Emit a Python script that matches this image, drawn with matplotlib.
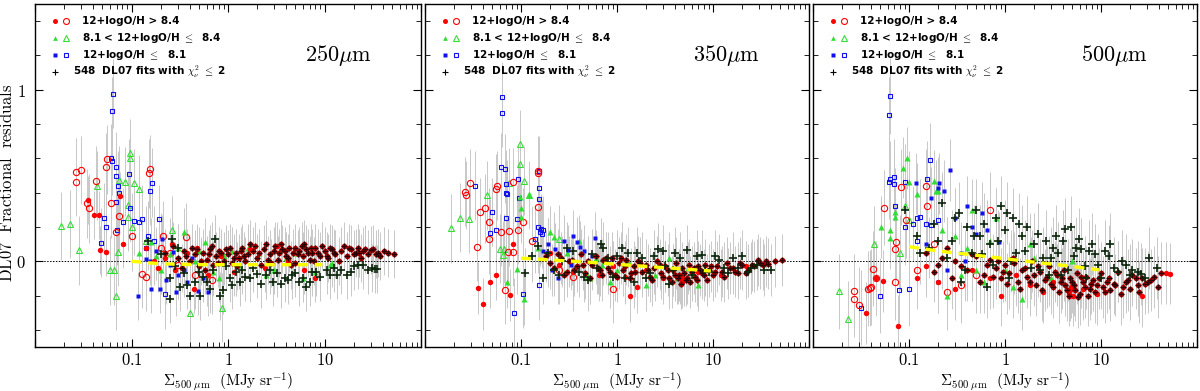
import matplotlib
matplotlib.use("Agg")
from matplotlib import pyplot as plt
from matplotlib.ticker import FixedLocator, FixedFormatter, LogLocator, MultipleLocator, NullFormatter

plt.rcParams['mathtext.fontset'] = 'cm'

# ---- panel 1 : 250 micron ----
p1_red_fill_x = [0.0357, 0.0405, 0.046, 0.0475, 0.055, 0.076, 0.082, 0.14, 0.17, 0.19, 0.22, 0.26, 0.28, 0.38, 0.44, 0.48, 0.62, 0.85, 1.15, 1.7, 2.4, 3.2, 4.2, 6.2, 8.0]
p1_red_fill_y = [0.36, 0.269, 0.27, 0.064, 0.053, 0.382, 0.10, 0.08, 0.0, -0.04, 0.02, 0.10, -0.05, 0.05, -0.16, 0.08, -0.08, 0.03, -0.06, 0.07, -0.04, 0.09, 0.0, -0.05, -0.10]
p1_red_open_x = [0.0264, 0.030, 0.0268, 0.0426, 0.055, 0.056, 0.157, 0.151, 0.0348, 0.0365, 0.062, 0.074, 0.069, 0.101, 0.13, 0.14, 0.21, 0.37, 0.68, 0.25, 0.45, 0.20, 0.30]
p1_red_open_y = [0.52, 0.532, 0.464, 0.47, 0.548, 0.595, 0.538, 0.513, 0.337, 0.308, 0.337, 0.263, 0.17, 0.146, -0.072, -0.09, 0.15, 0.14, -0.11, 0.05, -0.08, 0.08, -0.02]
p1_red_fit_x = [0.30, 0.33, 0.35, 0.40, 0.42, 0.45, 0.50, 0.55, 0.58, 0.60, 0.65, 0.70, 0.75, 0.80, 0.90, 0.95, 1.0, 1.1, 1.2, 1.25,
                1.3, 1.4, 1.5, 1.6, 1.8, 1.9, 2.0, 2.2, 2.5, 2.7, 2.8, 3.0, 3.3, 3.5, 3.6, 4.0, 4.3, 4.5, 4.7, 5.0,
                5.5, 5.8, 6.0, 6.5, 7.0, 7.5, 7.8, 8.0, 9.0, 9.5, 10, 11, 12, 13, 14, 15, 17, 18, 19, 21,
                23, 24, 26, 30, 34, 38, 45, 52,
                0.22, 0.27, 0.37, 0.48, 0.52, 0.63, 0.68, 0.78, 0.85, 1.05, 1.15, 1.35, 1.45, 1.7, 2.1, 2.35, 2.6, 3.1, 3.4, 3.9,
                4.2, 4.9, 5.3, 6.2, 6.8, 7.2, 8.5, 10.5, 11.5, 12.5, 16, 20, 22, 25, 28, 32, 36, 41]
p1_red_fit_y = [0.02, -0.04, 0.06, 0.00, 0.08, 0.04, -0.03, 0.05, -0.05, 0.01, 0.07, -0.02, 0.03, 0.06, 0.00, 0.07, 0.04, -0.01, 0.05, -0.03,
                0.02, 0.08, 0.00, 0.04, 0.06, 0.09, 0.02, -0.02, 0.10, 0.04, -0.01, 0.06, 0.01, 0.10, 0.07, 0.03, 0.08, -0.02, 0.05, -0.01,
                0.06, 0.09, 0.03, 0.07, 0.01, 0.05, 0.00, 0.08, 0.03, 0.09, 0.06, 0.02, 0.07, 0.04, 0.00, 0.06, 0.03, 0.08, 0.07, 0.05,
                0.05, 0.02, 0.07, 0.066, 0.04, 0.033, 0.05, 0.04,
                0.05, 0.09, 0.03, 0.07, 0.00, 0.04, 0.09, -0.01, 0.05, 0.08, 0.02, 0.06, 0.03, 0.10, 0.05, 0.07, 0.01, 0.09, 0.05, 0.06,
                0.02, 0.08, 0.04, 0.10, 0.05, 0.08, 0.05, 0.03, 0.08, 0.05, 0.09, 0.04, 0.08, 0.06, 0.04, 0.07, 0.05, 0.06]
p1_green_fill_x = [0.12, 0.16, 0.18, 0.20, 0.25, 0.35, 0.45, 0.58, 0.70, 0.90, 1.3, 1.6, 2.1, 3.0, 4.0, 6.0, 11.4, 12,
                   0.3, 0.5, 0.8, 1.1, 2.5, 5, 8]
p1_green_fill_y = [0.05, 0.11, 0.03, -0.05, 0.04, 0.17, 0.00, 0.11, -0.06, 0.03, -0.02, 0.08, 0.05, -0.05, 0.02, -0.10, -0.023, -0.01,
                   0.08, 0.06, -0.10, 0.06, -0.08, 0.05, -0.06]
p1_green_open_x = [0.0186, 0.023, 0.0283, 0.060, 0.066, 0.069, 0.044, 0.097, 0.097, 0.075, 0.086, 0.106, 0.12, 0.092, 0.092, 0.10, 0.073, 0.40, 0.87, 0.26, 0.14]
p1_green_open_y = [0.205, 0.218, 0.064, -0.053, -0.053, -0.20, 0.44, 0.63, 0.604, 0.472, 0.464, 0.454, 0.42, 0.327, 0.26, 0.20, 0.054, -0.30, -0.27, 0.18, 0.12]
p1_blue_fill_x = [0.117, 0.197, 0.29, 0.49, 0.62, 0.155, 0.27, 0.205, 0.14, 0.23, 0.16, 0.35, 0.42, 0.30, 0.18, 0.55, 0.25, 0.38]
p1_blue_fill_y = [-0.20, -0.16, -0.18, -0.175, -0.18, 0.00, 0.055, 0.13, 0.016, -0.11, -0.16, -0.05, 0.02, -0.08, 0.06, -0.10, -0.02, -0.12]
p1_blue_open_x = [0.064, 0.063, 0.061, 0.0625, 0.069, 0.069, 0.0935, 0.072, 0.074, 0.165, 0.156, 0.052, 0.0955, 0.069, 0.0545, 0.070, 0.082, 0.107, 0.13, 0.191, 0.12, 0.048, 0.22, 0.14, 0.15, 0.17]
p1_blue_open_y = [0.977, 0.875, 0.60, 0.585, 0.551, 0.497, 0.51, 0.44, 0.40, 0.458, 0.41, 0.255, 0.312, 0.347, 0.20, 0.181, 0.23, 0.234, 0.247, 0.244, 0.23, 0.109, -0.193, 0.08, 0.15, 0.12]
p1_plus_x = [0.15, 0.20, 0.25, 0.25, 0.26, 0.30, 0.32, 0.35, 0.40, 0.45, 0.50, 0.51, 0.60, 0.70, 0.73, 0.83, 0.89, 1.05, 1.2, 1.33,
             1.5, 1.8, 2.0, 2.5, 2.9, 3.2, 3.9, 4.2, 5.0, 5.5, 6.5, 7.5, 9.0, 10.5, 13.4, 15, 17, 20, 25, 33, 35,
             0.28, 0.38, 0.55, 0.65, 0.95, 1.1, 1.4, 1.7, 2.2, 2.7, 3.5, 4.6, 6.0, 7.0, 8.2, 11.5, 12.5, 19, 22, 28, 31]
p1_plus_y = [0.12, 0.04, -0.22, -0.10, 0.13, 0.08, -0.15, -0.07, -0.20, -0.12, -0.06, -0.20, -0.12, -0.05, 0.13, -0.20, -0.17, -0.10, -0.06, -0.12,
             -0.09, -0.04, -0.072, -0.08, -0.12, -0.07, -0.10, -0.11, -0.07, -0.12, -0.15, -0.06, -0.09, -0.05, -0.078, -0.05, -0.078, -0.03, -0.023, -0.043, -0.045,
             -0.03, -0.14, -0.09, -0.16, -0.03, -0.14, -0.05, -0.10, -0.13, -0.05, -0.13, -0.08, -0.10, -0.12, -0.06, -0.08, -0.04, -0.06, -0.02, -0.05, -0.04]
p1_med_y = [0.0, -0.015, -0.02, -0.02, -0.02, -0.02, -0.02]
p1_err_open = 0.2
p1_err_fill = 0.14

# ---- panel 2 : 350 micron ----
p2_red_fill_x = [0.082, 0.055, 0.047, 0.036, 0.040, 0.076, 1.36, 1.6, 0.20, 0.25, 0.35, 0.5, 0.65, 0.9, 1.2, 2.0, 3.0, 4.5, 4.7, 4.8, 5.0, 4.6, 7.0, 12, 22]
p2_red_fill_y = [0.103, -0.078, -0.12, -0.156, -0.25, -0.197, -0.205, -0.152, 0.05, -0.02, -0.06, 0.0, -0.08, -0.03, -0.09, -0.05, -0.10, -0.10, -0.12, -0.09, -0.11, -0.13, -0.06, -0.08, -0.03]
p2_red_open_x = [0.149, 0.152, 0.0296, 0.056, 0.055, 0.083, 0.026, 0.0265, 0.15, 0.037, 0.042, 0.046, 0.094, 0.105, 0.062, 0.075, 0.046, 0.035, 0.073, 0.083, 0.068, 0.91, 0.35, 0.25, 0.13]
p2_red_open_y = [0.528, 0.516, 0.456, 0.44, 0.423, 0.46, 0.405, 0.386, 0.314, 0.285, 0.308, 0.23, 0.185, 0.23, 0.171, 0.175, 0.127, 0.084, 0.056, 0.054, -0.166, -0.162, -0.09, -0.05, 0.12]
p2_red_fit_x = [0.18, 0.22, 0.26, 0.30, 0.34, 0.38, 0.42, 0.46, 0.50, 0.55, 0.60, 0.66, 0.72, 0.80, 0.88, 0.95, 1.05, 1.15, 1.25, 1.4,
                1.5, 1.65, 1.8, 2.0, 2.2, 2.4, 2.6, 2.9, 3.2, 3.5, 3.8, 4.1, 4.4, 4.8, 5.2, 5.6, 6.0, 6.5, 7.0, 7.6,
                8.2, 9.0, 10, 11, 12.5, 14, 16, 18, 20, 23, 25.6, 29.6, 33, 37.7, 52,
                0.2, 0.24, 0.28, 0.32, 0.36, 0.44, 0.52, 0.63, 0.69, 0.76, 0.84, 1.0, 1.1, 1.2, 1.35, 1.55, 1.75, 2.1, 2.3, 2.8,
                3.0, 3.4, 3.7, 4.0, 4.3, 4.6, 5.0, 5.4, 5.8, 6.3, 6.8, 7.3, 8.0, 8.6, 9.5, 10.5, 13, 15, 17, 19,
                22, 27, 31, 36, 44]
p2_red_fit_y = [0.03, -0.04, 0.02, -0.06, 0.01, -0.03, 0.04, -0.07, 0.00, -0.02, 0.03, -0.05, 0.01, -0.04, 0.02, -0.08, -0.01, -0.05, 0.01, -0.07,
                -0.03, 0.00, -0.06, -0.02, -0.09, -0.04, 0.00, -0.07, -0.03, -0.10, -0.05, -0.01, -0.08, -0.04, -0.11, -0.02, -0.06, -0.09, -0.03, -0.07,
                -0.02, -0.05, -0.08, -0.03, -0.06, -0.01, -0.04, -0.07, -0.02, -0.05, -0.023, 0.006, -0.02, -0.014, 0.006,
                -0.01, 0.04, -0.08, 0.00, -0.05, -0.02, -0.10, -0.04, -0.08, 0.02, -0.06, -0.09, 0.02, -0.03, -0.10, -0.06, -0.01, -0.05, -0.11, -0.02,
                -0.09, -0.05, -0.12, -0.08, -0.10, -0.13, -0.07, -0.10, -0.12, -0.04, -0.11, -0.05, -0.08, -0.11, -0.03, -0.06, -0.09, -0.04, -0.06, -0.01,
                -0.07, -0.03, -0.01, 0.00, 0.00]
p2_green_fill_x = [0.098, 0.12, 0.101, 0.101, 0.072, 0.091, 0.107, 0.20, 0.22, 0.30, 0.52, 0.7, 1.0, 2.0, 3.5, 7.0, 0.15, 0.4,
                   0.28, 0.6, 0.85, 1.3, 2.5, 4.2, 5.5]
p2_green_fill_y = [0.372, 0.386, 0.308, 0.259, -0.12, -0.043, -0.222, 0.17, 0.14, 0.05, -0.10, -0.02, -0.05, -0.14, 0.02, -0.14, 0.08, 0.12,
                   -0.07, 0.02, -0.12, 0.0, -0.08, -0.10, -0.04]
p2_green_open_x = [0.097, 0.098, 0.075, 0.107, 0.12, 0.044, 0.0232, 0.0285, 0.0185, 0.060, 0.067, 0.065, 0.25, 0.5]
p2_green_open_y = [0.682, 0.565, 0.458, 0.47, 0.386, 0.384, 0.255, 0.247, 0.191, 0.074, 0.074, 0.037, 0.13, -0.09]
p2_blue_fill_x = [0.59, 0.38, 0.41, 0.31, 0.88, 0.226, 0.19, 0.25, 0.28, 0.45, 0.33, 0.17, 0.21, 0.55, 0.24, 0.35]
p2_blue_fill_y = [0.136, 0.11, 0.084, 0.064, 0.016, 0.074, 0.10, 0.04, 0.12, 0.06, -0.02, 0.06, -0.05, 0.03, -0.10, 0.15]
p2_blue_open_x = [0.064, 0.064, 0.062, 0.068, 0.155, 0.033, 0.070, 0.093, 0.071, 0.070, 0.096, 0.153, 0.153, 0.050, 0.070, 0.090, 0.047, 0.055, 0.085, 0.105,
                  0.155, 0.158, 0.16, 0.165, 0.15, 0.17, 0.19, 0.14]
p2_blue_open_y = [0.96, 0.866, 0.548, 0.54, 0.528, 0.44, 0.448, 0.481, 0.39, 0.40, 0.37, 0.427, 0.365, 0.288, 0.25, 0.244, 0.162, 0.185, -0.30, -0.191,
                  -0.14, 0.17, 0.19, 0.16, 0.20, 0.18, 0.05, 0.13]
p2_plus_x = [0.11, 0.13, 0.17, 0.22, 0.3, 0.4, 0.55, 0.72, 0.9, 1.12, 1.3, 1.6, 2.0, 2.7, 3.2, 4.0, 5.3, 6.0, 7.6, 9.0,
             10.5, 13, 16, 20, 25, 34, 0.25, 0.5, 0.8, 1.5, 2.4, 3.5, 0.15,
             0.19, 0.27, 0.35, 0.45, 0.62, 0.68, 1.0, 1.2, 1.8, 2.2, 3.0, 3.8, 4.5, 6.8, 8.3, 11.5, 14.5, 18, 23, 29, 40]
p2_plus_y = [-0.07, 0.03, -0.10, -0.05, 0.08, -0.06, 0.04, 0.08, -0.09, 0.08, 0.05, 0.05, -0.10, 0.074, -0.03, 0.05, 0.064, -0.08, 0.035, -0.06,
             0.03, -0.04, 0.02, 0.03, -0.04, -0.05, -0.08, -0.11, 0.02, -0.12, 0.03, -0.13, 0.09,
             0.05, 0.00, 0.06, -0.09, -0.04, 0.10, 0.03, -0.10, 0.02, -0.07, 0.06, -0.05, 0.02, 0.03, -0.05, 0.01, -0.07, -0.04, -0.06, -0.02, -0.05]
p2_med_y = [0.018, 0.008, -0.005, -0.018, -0.03, -0.045, -0.057]
p2_err_open = 0.2
p2_err_fill = 0.15

# ---- panel 3 : 500 micron ----
p3_red_fill_x = [0.036, 0.077, 0.054, 52, 48, 26.5, 4.75, 4.6, 4.9, 5.1, 0.12, 0.15, 0.2, 0.3, 0.45, 0.7, 0.9, 1.3, 1.8, 2.5, 3.2, 6.5, 9.0, 0.045]
p3_red_fill_y = [-0.30, -0.378, -0.117, -0.072, -0.07, -0.205, -0.17, -0.19, -0.15, -0.20, -0.10, -0.03, -0.12, -0.16, -0.05, -0.10, -0.20, -0.08, -0.14, -0.18, -0.12, -0.16, -0.19, -0.10]
p3_red_open_x = [0.083, 0.149, 0.055, 0.154, 0.094, 0.072, 0.073, 0.69, 0.042, 0.045, 0.040, 0.037, 0.039, 0.0267, 0.0265, 0.030, 0.072, 0.25, 0.35, 0.5, 0.18, 0.12]
p3_red_open_y = [0.433, 0.437, 0.312, 0.323, 0.24, 0.072, 0.115, 0.298, -0.043, -0.10, -0.15, -0.16, -0.155, -0.175, -0.22, -0.253, -0.12, -0.18, -0.14, -0.08, 0.10, -0.05]
p3_red_fit_x = [0.15, 0.2, 0.25, 0.3, 0.4, 0.5, 0.6, 0.7, 0.8, 0.9, 1.0, 1.1, 1.2, 1.35, 1.5, 1.7, 1.9, 2.1, 2.3, 2.6,
                2.9, 3.2, 3.5, 3.8, 4.1, 4.4, 4.8, 5.2, 5.6, 6.0, 6.5, 7.0, 7.6, 8.2, 9.0, 10, 11, 12, 13.5, 15,
                17, 19, 21, 24, 27, 31, 36, 42,
                0.18, 0.22, 0.28, 0.35, 0.45, 0.55, 0.65, 0.75, 0.85, 0.95, 1.05, 1.25, 1.45, 1.6, 1.8, 2.0, 2.2, 2.45, 2.75, 3.0,
                3.35, 3.65, 3.95, 4.25, 4.6, 5.0, 5.4, 5.8, 6.2, 6.8, 7.3, 7.9, 8.6, 9.5, 10.5, 11.5, 12.5, 14, 16, 18,
                20, 23, 25, 29, 33, 39]
p3_red_fit_y = [0.05, -0.02, 0.08, 0.00, -0.05, 0.03, -0.08, 0.01, -0.04, -0.10, -0.02, -0.07, 0.02, -0.12, -0.05, -0.09, 0.00, -0.14, -0.06, -0.11,
                -0.03, -0.15, -0.08, -0.12, -0.05, -0.17, -0.10, -0.14, -0.07, -0.19, -0.12, -0.09, -0.16, -0.11, -0.14, -0.07, -0.18, -0.10, -0.13, -0.06,
                -0.15, -0.11, -0.08, -0.14, -0.10, -0.12, -0.09, -0.07,
                -0.06, 0.02, -0.10, -0.03, 0.04, -0.12, -0.02, -0.09, 0.00, -0.06, -0.13, -0.01, -0.16, -0.04, -0.12, -0.08, -0.03, -0.17, -0.09, -0.13,
                -0.06, -0.18, -0.10, -0.14, -0.20, -0.12, -0.17, -0.21, -0.09, -0.15, -0.20, -0.13, -0.18, -0.10, -0.15, -0.12, -0.17, -0.14, -0.19, -0.12,
                -0.16, -0.10, -0.18, -0.13, -0.11, -0.15]
p3_green_fill_x = [0.096, 0.086, 0.1, 0.183, 0.19, 0.2, 0.12, 0.072, 0.072, 0.064, 0.064, 0.051, 0.3, 0.5, 0.8, 1.2, 2.0, 0.25, 0.4, 0.6, 0.22, 1.5,
                   0.35, 0.7, 1.0, 1.8, 3.0, 5.0, 0.45]
p3_green_fill_y = [0.604, 0.546, 0.464, 0.468, 0.41, 0.41, 0.39, 0.29, 0.26, 0.185, 0.133, 0.2, 0.15, -0.05, 0.25, -0.15, 0.02, -0.20, 0.08, -0.12, 0.18, -0.22,
                   -0.08, 0.12, -0.05, 0.10, -0.10, 0.0, 0.30]
p3_green_open_x = [0.043, 0.023, 0.0187, 0.09, 0.1, 0.08]
p3_green_open_y = [0.103, -0.335, -0.175, 0.32, 0.24, 0.05]
p3_blue_fill_x = [0.119, 0.207, 0.20, 0.23, 0.27, 0.17, 0.57, 0.40, 0.86, 0.45, 0.50, 0.30, 0.35, 0.15, 0.25, 0.65, 0.38, 0.2]
p3_blue_fill_y = [0.454, 0.454, 0.43, 0.41, 0.534, 0.37, 0.28, 0.32, 0.11, 0.20, 0.16, 0.25, 0.05, 0.10, -0.05, 0.18, 0.00, -0.12]
p3_blue_open_x = [0.0634, 0.0624, 0.164, 0.063, 0.07, 0.0615, 0.069, 0.091, 0.153, 0.071, 0.09, 0.11, 0.12, 0.13, 0.15, 0.17, 0.2, 0.032, 0.05, 0.078, 0.1, 0.12]
p3_blue_open_y = [0.963, 0.854, 0.589, 0.48, 0.49, 0.464, 0.452, 0.464, 0.48, 0.323, 0.20, 0.22, 0.25, 0.26, 0.22, 0.21, 0.24, -0.27, -0.20, -0.17, -0.16, 0.12]
p3_plus_x = [0.09, 0.13, 0.18, 0.22, 0.28, 0.33, 0.4, 0.45, 0.5, 0.55, 0.6, 0.7, 0.8, 0.9, 1.0, 1.2, 1.3, 1.5, 1.7, 2.0,
             2.3, 2.7, 3.0, 3.4, 3.8, 4.2, 4.9, 5.5, 5.9, 6.8, 7.5, 8.6, 10, 12, 12.3, 15, 18, 21, 26, 32,
             38, 0.35, 0.65, 1.1,
             0.12, 0.16, 0.2, 0.25, 0.3, 0.38, 0.48, 0.58, 0.75, 0.85, 1.05, 1.15, 1.4, 1.6, 1.85, 2.2, 2.5, 2.9, 3.2, 3.6,
             4.0, 4.5, 5.2, 6.2, 7.0, 8.0, 9.3, 11, 13.5, 16.5, 20, 24, 29]
p3_plus_y = [0.30, 0.05, 0.22, 0.34, 0.12, 0.28, 0.20, 0.05, 0.30, 0.15, 0.22, 0.10, 0.25, 0.32, 0.18, 0.25, 0.05, 0.15, 0.20, 0.10,
             -0.05, 0.12, 0.02, 0.15, -0.08, 0.19, 0.20, 0.08, 0.13, -0.03, 0.06, 0.04, -0.10, 0.03, 0.10, -0.06, -0.02, -0.05, -0.075, 0.02,
             -0.04, -0.12, -0.15, -0.10,
             0.15, 0.08, 0.12, 0.02, 0.25, -0.05, 0.15, 0.04, -0.02, 0.12, 0.28, 0.00, 0.22, 0.06, -0.04, 0.16, 0.02, -0.08, 0.08, 0.05,
             0.12, -0.05, 0.03, 0.07, -0.10, 0.10, -0.02, 0.06, -0.04, 0.0, -0.08, -0.06, -0.10]
p3_med_y = [0.085, 0.06, 0.035, 0.015, -0.005, -0.03, -0.05]
p3_err_open = 0.22
p3_err_fill = 0.18

# running median x positions (same for all panels)
med_x = [0.1, 0.2, 0.5, 1, 2, 5, 9.5]

bands = ['250', '350', '500']
legend_labels = ['12+logO/H > 8.4',
                 r'8.1 < 12+logO/H $\leq$  8.4',
                 r'12+logO/H $\leq$  8.1',
                 r'548  DL07 fits with $\chi^2_\nu$ $\leq$ 2']

RED = '#ff0000'
GREEN = '#33dd33'
BLUE = '#1010ee'
GREY = '#c8c8c8'
PLUS = '#0c260c'


def errbars(ax, x, y, e):
    ax.errorbar(x, y, yerr=e, fmt='none', ecolor=GREY, elinewidth=0.7, capsize=0, zorder=1)


def draw_panel(ax, d, band, first):
    # error bars first so they sit under everything
    for k in ['red_open', 'green_open', 'blue_open']:
        errbars(ax, d[k][0], d[k][1], d['err_open'])
    for k in ['red_fill', 'green_fill', 'blue_fill', 'red_fit', 'plus']:
        errbars(ax, d[k][0], d[k][1], d['err_fill'])

    ax.plot(d['green_open'][0], d['green_open'][1], '^', ms=3.8, mfc='none', mec=GREEN, mew=0.8, zorder=3)
    ax.plot(d['blue_open'][0], d['blue_open'][1], 's', ms=3.2, mfc='none', mec=BLUE, mew=0.8, zorder=3)
    ax.plot(d['red_open'][0], d['red_open'][1], 'o', ms=4.5, mfc='none', mec=RED, mew=0.8, zorder=3)
    ax.plot(d['green_fill'][0], d['green_fill'][1], '^', ms=3.8, color=GREEN, mec='none', zorder=4)
    ax.plot(d['blue_fill'][0], d['blue_fill'][1], 's', ms=3.0, color=BLUE, mec='none', zorder=4)
    ax.plot(d['red_fill'][0], d['red_fill'][1], 'o', ms=3.9, color=RED, mec='none', zorder=4)
    ax.plot(d['red_fit'][0], d['red_fit'][1], 'o', ms=4.0, color='#c00000', mec='none', zorder=4)
    ax.plot(d['red_fit'][0], d['red_fit'][1], '+', ms=5.0, color='#2a0000', mew=1.0, zorder=5)
    ax.plot(d['plus'][0], d['plus'][1], '+', ms=5.2, color=PLUS, mew=1.2, zorder=5)

    # running median
    ax.plot(med_x, d['med'], color='#ffff00', lw=2.4, ls=(0, (3, 2)), zorder=6)
    ax.axhline(0, color='black', lw=0.7, ls=(0, (1.5, 1.5)), zorder=2)

    ax.set_xscale('log')
    ax.set_xlim(0.01, 100)
    ax.set_ylim(-0.5, 1.5)
    ax.xaxis.set_major_locator(FixedLocator([0.01, 0.1, 1, 10, 100]))
    ax.xaxis.set_major_formatter(FixedFormatter(['', r'$0.1$', r'$1$', r'$10$', '']))
    ax.xaxis.set_minor_locator(LogLocator(base=10, subs=range(2, 10)))
    ax.xaxis.set_minor_formatter(NullFormatter())
    ax.yaxis.set_major_locator(FixedLocator([0, 1]))
    ax.yaxis.set_minor_locator(MultipleLocator(0.2))
    if first:
        ax.yaxis.set_major_formatter(FixedFormatter([r'$0$', r'$1$']))
        ax.set_ylabel(r'$\rm DL07\ \ Fractional\ \ residuals$', fontsize=12, va='center')
        ax.yaxis.set_label_coords(-0.072, 0.48)
    else:
        ax.yaxis.set_major_formatter(NullFormatter())
    ax.tick_params(which='both', direction='in', top=True, right=True, labelsize=12)
    ax.tick_params(which='major', length=6, width=0.8)
    ax.tick_params(which='minor', length=3.5, width=0.6)
    ax.tick_params(axis='x', which='major', pad=3)
    ax.tick_params(axis='y', which='major', pad=6.5)
    ax.set_xlabel(r'$\Sigma_{500\ \mu{\rm m}}\ \ ({\rm MJy\ sr^{-1}})$', fontsize=11, va='center')
    ax.xaxis.set_label_coords(0.5, -0.1)
    for s in ax.spines.values():
        s.set_linewidth(1.0)

    # hand drawn legend like the original
    tr = ax.transAxes
    ly = [0.950, 0.901, 0.851, 0.802]
    ax.plot([0.052], [ly[0]], 'o', ms=3.6, color=RED, mec='none', transform=tr)
    ax.plot([0.080], [ly[0]], 'o', ms=4.3, mfc='none', mec=RED, mew=0.8, transform=tr)
    ax.plot([0.052], [ly[1]], '^', ms=3.4, color=GREEN, mec='none', transform=tr)
    ax.plot([0.080], [ly[1]], '^', ms=3.8, mfc='none', mec=GREEN, mew=0.8, transform=tr)
    ax.plot([0.052], [ly[2]], 's', ms=2.8, color=BLUE, mec='none', transform=tr)
    ax.plot([0.080], [ly[2]], 's', ms=3.2, mfc='none', mec=BLUE, mew=0.8, transform=tr)
    ax.plot([0.052], [ly[3]], '+', ms=5, color='black', mew=0.8, transform=tr)
    for i, lab in enumerate(legend_labels):
        xt = 0.122 if i < 3 else 0.098
        ax.text(xt, ly[i], lab, transform=tr, fontsize=7.5, fontweight='bold',
                family='DejaVu Sans', va='center', ha='left')
    ax.text(0.785, 0.851, r'$%s\mu{\rm m}$' % band, transform=tr, fontsize=16,
            ha='center', va='center')


panels = [
    dict(red_fill=(p1_red_fill_x, p1_red_fill_y), red_open=(p1_red_open_x, p1_red_open_y),
         red_fit=(p1_red_fit_x, p1_red_fit_y), green_fill=(p1_green_fill_x, p1_green_fill_y),
         green_open=(p1_green_open_x, p1_green_open_y), blue_fill=(p1_blue_fill_x, p1_blue_fill_y),
         blue_open=(p1_blue_open_x, p1_blue_open_y), plus=(p1_plus_x, p1_plus_y),
         med=p1_med_y, err_open=p1_err_open, err_fill=p1_err_fill),
    dict(red_fill=(p2_red_fill_x, p2_red_fill_y), red_open=(p2_red_open_x, p2_red_open_y),
         red_fit=(p2_red_fit_x, p2_red_fit_y), green_fill=(p2_green_fill_x, p2_green_fill_y),
         green_open=(p2_green_open_x, p2_green_open_y), blue_fill=(p2_blue_fill_x, p2_blue_fill_y),
         blue_open=(p2_blue_open_x, p2_blue_open_y), plus=(p2_plus_x, p2_plus_y),
         med=p2_med_y, err_open=p2_err_open, err_fill=p2_err_fill),
    dict(red_fill=(p3_red_fill_x, p3_red_fill_y), red_open=(p3_red_open_x, p3_red_open_y),
         red_fit=(p3_red_fit_x, p3_red_fit_y), green_fill=(p3_green_fill_x, p3_green_fill_y),
         green_open=(p3_green_open_x, p3_green_open_y), blue_fill=(p3_blue_fill_x, p3_blue_fill_y),
         blue_open=(p3_blue_open_x, p3_blue_open_y), plus=(p3_plus_x, p3_plus_y),
         med=p3_med_y, err_open=p3_err_open, err_fill=p3_err_fill),
]

fig = plt.figure(figsize=(12, 3.91), dpi=100)
rects = [[35 / 1200, 44 / 391, 386 / 1200, 343 / 391],
         [425 / 1200, 44 / 391, 384 / 1200, 343 / 391],
         [813 / 1200, 44 / 391, 384 / 1200, 343 / 391]]
for i in range(3):
    ax = fig.add_axes(rects[i])
    draw_panel(ax, panels[i], bands[i], i == 0)

fig.savefig('out.png', dpi=100)
